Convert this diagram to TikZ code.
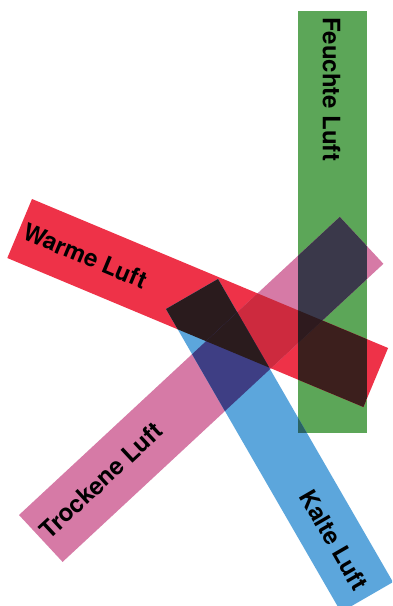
\documentclass[tikz,border=0pt]{standalone}
\usepackage{fontspec}
\setmainfont{TeX Gyre Heros}
\definecolor{cGreen}{RGB}{92,166,88}
\definecolor{cRed}{RGB}{238,50,72}
\definecolor{cPink}{RGB}{214,122,166}
\definecolor{cBlue}{RGB}{92,166,220}
\definecolor{cRP}{RGB}{205,42,62}
\definecolor{cRB}{RGB}{42,27,29}
\definecolor{cRG}{RGB}{60,31,29}
\definecolor{cPG}{RGB}{58,56,74}
\definecolor{cPB}{RGB}{62,62,132}
\definecolor{cBG}{RGB}{42,100,100}
\definecolor{cRPG}{RGB}{46,26,30}
\def\grnpath{(298,11) rectangle (367,433)}
\def\redpath{(32,199) -- (388.1,348) -- (363.4,407) -- (7.3,258) -- cycle}
\def\pinkpath{(19,515) -- (339.8,216.9) -- (383.4,263.8) -- (62.6,561.9) -- cycle}
\def\bluepath{(218,279) -- (393,582.1) -- (341,612.1) -- (166,309) -- cycle}
\tikzset{lbl/.style={font=\bfseries\fontsize{24}{24}\selectfont, inner sep=0pt, anchor=west, text=black}}
\begin{document}
\begin{tikzpicture}[x=1pt,y=-1pt]
\fill[white] (0,0) rectangle (392,606);
\useasboundingbox (0,0) rectangle (392,606);
\clip (0,0) rectangle (392,606);
\fill[cGreen] \grnpath;
\fill[cRed] \redpath;
\fill[cPink] \pinkpath;
\fill[cBlue] \bluepath;
\begin{scope}
  \clip \redpath;
  \fill[cRP] \pinkpath;
  \fill[cRB] \bluepath;
  \fill[cRG] \grnpath;
\end{scope}
\begin{scope}
  \clip \pinkpath;
  \fill[cPB] \bluepath;
  \fill[cPG] \grnpath;
\end{scope}
\begin{scope}
  \clip \bluepath;
  \fill[cBG] \grnpath;
\end{scope}
\begin{scope}
  \clip \redpath;
  \clip \pinkpath;
  \fill[cRB] \bluepath;
  \fill[cRPG] \grnpath;
\end{scope}
\node[lbl, rotate=-90] (feucht) at (331.5,17) {Feuchte Luft};
\node[lbl, rotate=-22.7] (warm) at (24.3,230.4) {Warme Luft};
\node[lbl, rotate=42.9] (trocken) at (43.5,534) {Trockene Luft};
\node[lbl, rotate=-60] (kalt) at (306,492) {Kalte Luft};
\end{tikzpicture}
\end{document}
